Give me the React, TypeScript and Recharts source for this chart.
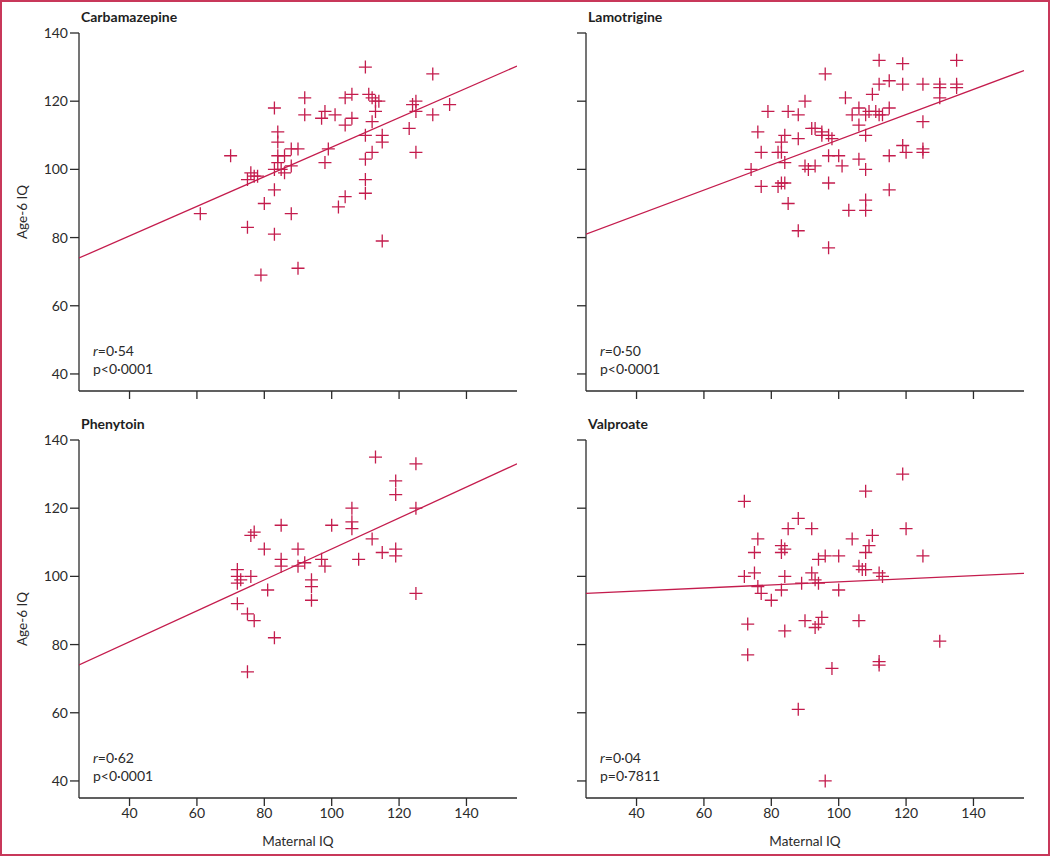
import React from 'react';
import { ScatterChart, Scatter, XAxis, YAxis } from 'recharts';

document.body.style.margin = '0';

const RED = '#c41c4d';
const INK = '#2b2b2b';
const FONT = 'Lato, "Open Sans", sans-serif';

// maternal IQ, child IQ at age 6
const carbamazepine: [number, number][] = [
  [61, 87], [70, 104], [75, 97], [76, 99], [77, 98], [78, 98], [75, 83], [79, 69],
  [80, 90], [83, 118], [84, 111], [84, 108], [84, 104], [84, 102], [86, 104], [88, 106],
  [90, 106], [83, 100], [85, 100], [86, 99], [88, 101], [83, 94], [83, 81], [88, 87],
  [90, 71], [92, 121], [92, 116], [97, 115], [98, 117], [98, 102], [99, 106], [101, 116],
  [102, 89], [104, 92], [104, 121], [106, 122], [104, 113], [106, 115], [110, 130],
  [111, 122], [112, 121], [113, 120], [114, 120], [113, 117], [112, 114], [110, 110],
  [112, 105], [110, 103], [110, 97], [110, 93], [115, 110], [115, 108], [115, 79],
  [123, 112], [124, 119], [125, 120], [125, 117], [125, 105], [130, 128], [130, 116],
  [135, 119],
];

const lamotrigine: [number, number][] = [
  [74, 100], [76, 111], [77, 105], [77, 95], [79, 117], [82, 105], [82, 95], [83, 108],
  [84, 110], [83, 105], [84, 102], [83, 96], [84, 96], [85, 117], [85, 90], [88, 116],
  [88, 109], [88, 82], [90, 120], [90, 101], [91, 100], [93, 101], [92, 112], [93, 112],
  [95, 111], [96, 128], [95, 110], [97, 110], [98, 109], [97, 104], [97, 96], [97, 77],
  [100, 104], [101, 101], [102, 121], [103, 88], [104, 116], [106, 118], [106, 113],
  [106, 103], [108, 116], [108, 110], [108, 100], [108, 91], [108, 88], [110, 122],
  [109, 117], [111, 117], [112, 116], [112, 132], [112, 125], [113, 116], [115, 126],
  [115, 118], [115, 104], [115, 94], [119, 131], [119, 125], [119, 107], [120, 105],
  [125, 125], [125, 114], [125, 106], [125, 105], [130, 125], [130, 124], [130, 121],
  [135, 132], [135, 125], [135, 124],
];

const phenytoin: [number, number][] = [
  [72, 102], [72, 100], [73, 99], [72, 98], [72, 92], [76, 100], [75, 89], [77, 87],
  [76, 112], [77, 113], [75, 72], [80, 108], [81, 96], [83, 82], [85, 115], [85, 105],
  [85, 103], [90, 108], [90, 103], [92, 104], [94, 99], [94, 97], [94, 93], [97, 105],
  [98, 103], [100, 115], [106, 120], [106, 116], [106, 114], [108, 105], [112, 111],
  [113, 135], [115, 107], [119, 128], [119, 124], [119, 108], [119, 106], [125, 133],
  [125, 120], [125, 95],
];

const valproate: [number, number][] = [
  [72, 122], [72, 100], [75, 101], [75, 107], [76, 111], [76, 97], [77, 95], [73, 86],
  [73, 77], [80, 93], [83, 109], [83, 107], [84, 108], [83, 96], [84, 100], [84, 84],
  [85, 114], [88, 117], [88, 61], [89, 98], [90, 87], [92, 114], [92, 101], [93, 99],
  [94, 98], [93, 85], [94, 86], [95, 88], [94, 105], [96, 106], [96, 40], [98, 73],
  [100, 106], [100, 96], [104, 111], [106, 103], [107, 102], [106, 87], [108, 107],
  [108, 102], [108, 125], [109, 109], [110, 112], [112, 101], [113, 100], [112, 75],
  [112, 74], [119, 130], [120, 114], [125, 106], [130, 81],
];

// regression line end points (maternal IQ 25 and 155)
const carbamazepineFit: [number, number][] = [[25, 74], [155, 130.3]];
const lamotrigineFit: [number, number][] = [[25, 81], [155, 129]];
const phenytoinFit: [number, number][] = [[25, 74], [155, 133]];
const valproateFit: [number, number][] = [[25, 95], [155, 100.9]];

const xTicks = [40, 60, 80, 100, 120, 140];
const yTicks = [40, 60, 80, 100, 120, 140];

const toPts = (arr: [number, number][]) => arr.map(([x, y]) => ({ x, y }));

const PLOT_W = 438;
const PLOT_H = 358;

function CrossShape(props: any) {
  const { cx, cy } = props;
  if (cx == null || cy == null) return <g />;
  const a = 6.5;
  return (
    <path
      d={`M${cx - a},${cy}H${cx + a}M${cx},${cy - a}V${cy + a}`}
      stroke={RED}
      strokeWidth={1.3}
      fill="none"
    />
  );
}

interface PanelProps {
  title: string;
  rText: string;
  pText: string;
  points: [number, number][];
  fit: [number, number][];
  chartLeft: number;
  axisX: number;
  plotTop: number;
  bottomRow: boolean;
  leftCol: boolean;
}

function Panel({ title, rText, pText, points, fit, chartLeft, axisX, plotTop, bottomRow, leftCol }: PanelProps) {
  const yw = axisX - chartLeft;
  const xh = bottomRow ? 56 : 14;
  const marginTop = 33;
  const width = yw + PLOT_W + 6;
  const height = marginTop + PLOT_H + xh;
  const chartTop = plotTop - marginTop;
  const tickStyle = { fontSize: 14, fill: INK, fontFamily: FONT };

  return (
    <>
      <div style={{ position: 'absolute', left: chartLeft, top: chartTop }}>
        <ScatterChart width={width} height={height} margin={{ top: marginTop, right: 6, bottom: 0, left: 0 }}>
          <XAxis
            type="number"
            dataKey="x"
            domain={[25, 155]}
            ticks={xTicks}
            allowDataOverflow
            height={xh}
            tickSize={8}
            tick={tickStyle}
            tickFormatter={(v: number) => (bottomRow ? String(v) : '')}
            stroke={INK}
            strokeWidth={1.3}
            label={
              bottomRow
                ? { value: 'Maternal IQ', position: 'insideBottom', offset: 8, style: { fontSize: 13.5, fill: INK, fontFamily: FONT } }
                : undefined
            }
          />
          <YAxis
            type="number"
            dataKey="y"
            domain={[35, 140]}
            ticks={yTicks}
            allowDataOverflow
            width={yw}
            tickSize={9}
            tick={tickStyle}
            tickFormatter={(v: number) => (leftCol ? String(v) : '')}
            stroke={INK}
            strokeWidth={1.3}
            label={
              leftCol
                ? {
                    value: 'Age-6 IQ',
                    angle: -90,
                    position: 'insideLeft',
                    offset: 22,
                    style: { textAnchor: 'middle', fontSize: 13.5, fill: INK, fontFamily: FONT },
                  }
                : undefined
            }
          />
          <Scatter
            data={toPts(fit)}
            line={{ stroke: RED, strokeWidth: 1.3 }}
            shape={() => <g />}
            isAnimationActive={false}
          />
          <Scatter data={toPts(points)} shape={<CrossShape />} isAnimationActive={false} />
        </ScatterChart>
      </div>
      <div
        style={{
          position: 'absolute',
          left: axisX + 2,
          top: plotTop - 25,
          fontFamily: FONT,
          fontWeight: 700,
          fontSize: 14,
          color: '#1e1e1e',
        }}
      >
        {title}
      </div>
      <div
        style={{
          position: 'absolute',
          left: axisX + 14,
          top: plotTop + 309,
          fontFamily: FONT,
          fontSize: 14,
          lineHeight: '18px',
          color: INK,
        }}
      >
        <div>
          <i>r</i>
          {rText}
        </div>
        <div>{pText}</div>
      </div>
    </>
  );
}

export default function App() {
  return (
    <div style={{ position: 'relative', width: 1050, height: 856, background: '#fff', overflow: 'hidden' }}>
      <Panel
        title="Carbamazepine"
        rText="=0·54"
        pText="p<0·0001"
        points={carbamazepine}
        fit={carbamazepineFit}
        chartLeft={0}
        axisX={79}
        plotTop={33}
        bottomRow={false}
        leftCol
      />
      <Panel
        title="Lamotrigine"
        rText="=0·50"
        pText="p<0·0001"
        points={lamotrigine}
        fit={lamotrigineFit}
        chartLeft={520}
        axisX={586}
        plotTop={33}
        bottomRow={false}
        leftCol={false}
      />
      <Panel
        title="Phenytoin"
        rText="=0·62"
        pText="p<0·0001"
        points={phenytoin}
        fit={phenytoinFit}
        chartLeft={0}
        axisX={79}
        plotTop={440}
        bottomRow
        leftCol
      />
      <Panel
        title="Valproate"
        rText="=0·04"
        pText="p=0·7811"
        points={valproate}
        fit={valproateFit}
        chartLeft={520}
        axisX={586}
        plotTop={440}
        bottomRow
        leftCol={false}
      />
      <div
        style={{
          position: 'absolute',
          inset: 0,
          border: '2px solid #c8385a',
          pointerEvents: 'none',
        }}
      />
    </div>
  );
}
